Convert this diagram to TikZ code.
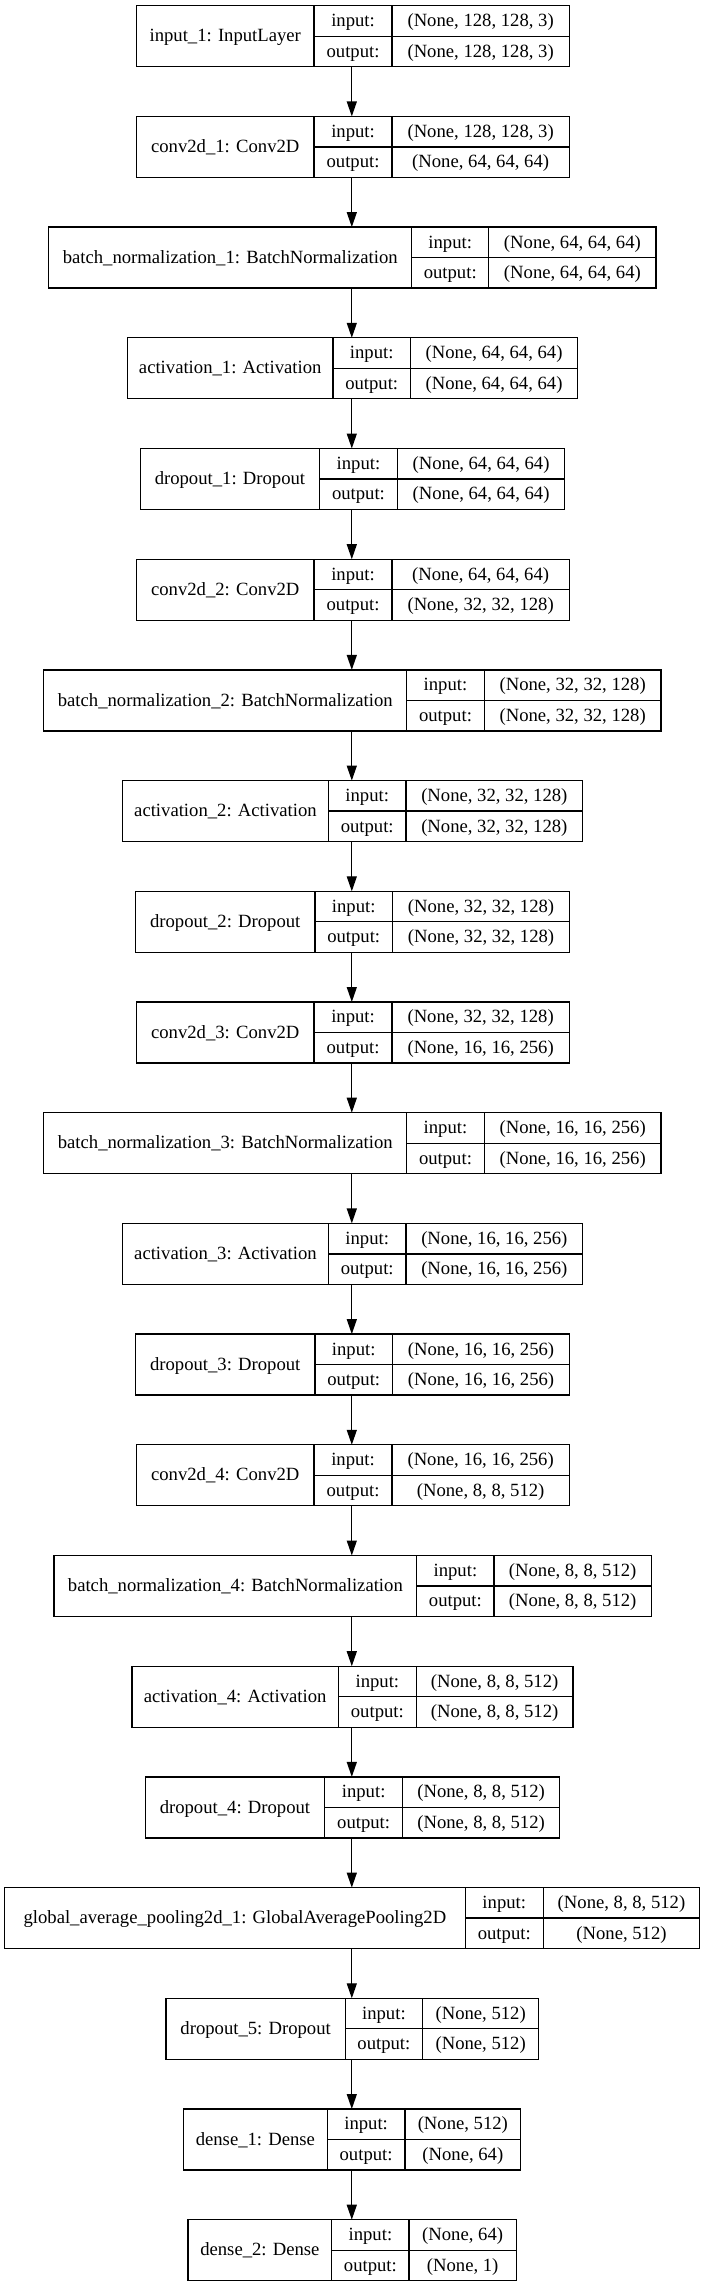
\documentclass[tikz,border=0pt]{standalone}
\usepackage{fontspec}
\setmainfont{Liberation Serif}
\usetikzlibrary{arrows.meta}

\tikzset{
  kcell/.style={draw, line width=1pt, inner sep=0pt, outer sep=0pt, anchor=north west,
    text height=10.2pt, text depth=1.7pt, font=\fontsize{14}{16}\selectfont},
  flow/.style={line width=1pt, -{Triangle[length=11.25pt,width=7.5pt]}},
}

% one keras layer: name, row, left, split1, split2, right, label, input shape, output shape
\newcommand{\kerasrow}[9]{%
  \pgfmathsetmacro{\rowtop}{5.7+110.7*#2}%
  \node[kcell, minimum width={(#4-#3)*0.75pt}, minimum height=45.75pt] (#1) at (#3,\rowtop) {#7};
  \node[kcell, minimum width={(#5-#4)*0.75pt}, minimum height=22.875pt] (#1_il) at (#1.north east) {input:};
  \node[kcell, minimum width={(#5-#4)*0.75pt}, minimum height=22.875pt] (#1_ol) at (#1_il.south west) {output:};
  \node[kcell, minimum width={(#6-#5)*0.75pt}, minimum height=22.875pt] (#1_is) at (#1_il.north east) {#8};
  \node[kcell, minimum width={(#6-#5)*0.75pt}, minimum height=22.875pt] (#1_os) at (#1_ol.north east) {#9};
  \coordinate (#1_n) at (351.8,\rowtop);
  \coordinate (#1_s) at (351.8,\rowtop+61);
}

\begin{document}
\begin{tikzpicture}[x=0.75pt, y=-0.75pt]
\useasboundingbox (0,0) rectangle (703,2287);
\kerasrow{L_0}{0}{136.4}{314.1}{392.0}{569.3}{input\_1: InputLayer}{(None, 128, 128, 3)}{(None, 128, 128, 3)}
\kerasrow{L_1}{1}{136.4}{314.1}{392.0}{569.3}{conv2d\_1: Conv2D}{(None, 128, 128, 3)}{(None, 64, 64, 64)}
\draw[flow] (L_0_s) -- (L_1_n);
\kerasrow{L_2}{2}{48.6}{411.8}{488.7}{656.1}{batch\_normalization\_1: BatchNormalization}{(None, 64, 64, 64)}{(None, 64, 64, 64)}
\draw[flow] (L_1_s) -- (L_2_n);
\kerasrow{L_3}{3}{127.4}{333.0}{410.4}{577.8}{activation\_1: Activation}{(None, 64, 64, 64)}{(None, 64, 64, 64)}
\draw[flow] (L_2_s) -- (L_3_n);
\kerasrow{L_4}{4}{140.4}{319.5}{397.4}{564.8}{dropout\_1: Dropout}{(None, 64, 64, 64)}{(None, 64, 64, 64)}
\draw[flow] (L_3_s) -- (L_4_n);
\kerasrow{L_5}{5}{136.4}{314.1}{392.0}{569.3}{conv2d\_2: Conv2D}{(None, 64, 64, 64)}{(None, 32, 32, 128)}
\draw[flow] (L_4_s) -- (L_5_n);
\kerasrow{L_6}{6}{43.7}{406.8}{484.2}{661.1}{batch\_normalization\_2: BatchNormalization}{(None, 32, 32, 128)}{(None, 32, 32, 128)}
\draw[flow] (L_5_s) -- (L_6_n);
\kerasrow{L_7}{7}{122.4}{328.5}{405.9}{582.8}{activation\_2: Activation}{(None, 32, 32, 128)}{(None, 32, 32, 128)}
\draw[flow] (L_6_s) -- (L_7_n);
\kerasrow{L_8}{8}{135.5}{315.0}{392.4}{569.7}{dropout\_2: Dropout}{(None, 32, 32, 128)}{(None, 32, 32, 128)}
\draw[flow] (L_7_s) -- (L_8_n);
\kerasrow{L_9}{9}{136.4}{314.1}{392.0}{569.3}{conv2d\_3: Conv2D}{(None, 32, 32, 128)}{(None, 16, 16, 256)}
\draw[flow] (L_8_s) -- (L_9_n);
\kerasrow{L_10}{10}{43.7}{406.8}{484.2}{661.1}{batch\_normalization\_3: BatchNormalization}{(None, 16, 16, 256)}{(None, 16, 16, 256)}
\draw[flow] (L_9_s) -- (L_10_n);
\kerasrow{L_11}{11}{122.4}{328.5}{405.9}{582.8}{activation\_3: Activation}{(None, 16, 16, 256)}{(None, 16, 16, 256)}
\draw[flow] (L_10_s) -- (L_11_n);
\kerasrow{L_12}{12}{135.5}{315.0}{392.4}{569.7}{dropout\_3: Dropout}{(None, 16, 16, 256)}{(None, 16, 16, 256)}
\draw[flow] (L_11_s) -- (L_12_n);
\kerasrow{L_13}{13}{136.4}{314.1}{392.0}{569.3}{conv2d\_4: Conv2D}{(None, 16, 16, 256)}{(None, 8, 8, 512)}
\draw[flow] (L_12_s) -- (L_13_n);
\kerasrow{L_14}{14}{54.0}{416.7}{494.1}{651.2}{batch\_normalization\_4: BatchNormalization}{(None, 8, 8, 512)}{(None, 8, 8, 512)}
\draw[flow] (L_13_s) -- (L_14_n);
\kerasrow{L_15}{15}{131.9}{338.4}{416.3}{572.9}{activation\_4: Activation}{(None, 8, 8, 512)}{(None, 8, 8, 512)}
\draw[flow] (L_14_s) -- (L_15_n);
\kerasrow{L_16}{16}{145.4}{324.5}{402.8}{559.4}{dropout\_4: Dropout}{(None, 8, 8, 512)}{(None, 8, 8, 512)}
\draw[flow] (L_15_s) -- (L_16_n);
\kerasrow{L_17}{17}{4.5}{465.3}{543.2}{699.8}{global\_average\_pooling2d\_1: GlobalAveragePooling2D}{(None, 8, 8, 512)}{(None, 512)}
\draw[flow] (L_16_s) -- (L_17_n);
\kerasrow{L_18}{18}{166.1}{345.2}{422.6}{538.7}{dropout\_5: Dropout}{(None, 512)}{(None, 512)}
\draw[flow] (L_17_s) -- (L_18_n);
\kerasrow{L_19}{19}{183.6}{327.2}{405.0}{520.7}{dense\_1: Dense}{(None, 512)}{(None, 64)}
\draw[flow] (L_18_s) -- (L_19_n);
\kerasrow{L_20}{20}{188.1}{331.7}{409.1}{516.2}{dense\_2: Dense}{(None, 64)}{(None, 1)}
\draw[flow] (L_19_s) -- (L_20_n);
\end{tikzpicture}
\end{document}
